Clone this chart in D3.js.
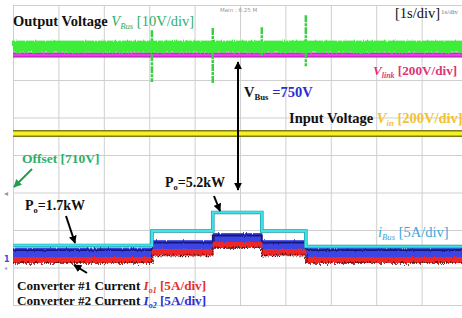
<!DOCTYPE html>
<html>
<head>
<meta charset="utf-8">
<script src="https://cdn.jsdelivr.net/npm/d3@7"></script>
<style>
  html, body { margin: 0; padding: 0; background: #fff; }
  svg { display: block; font-family: "Liberation Serif", "Times New Roman", serif; }
  .grid line { stroke: #cfcfcf; stroke-width: 1; }
  .grid path { display: none; }
</style>
</head>
<body>
<div id="scope"></div>
<script>
// scope graticule: 10 x 8 div, 1 s/div
var timeTicks = [0, 1, 2, 3, 4, 5, 6, 7, 8, 9, 10];
var divTicks = [0, 1, 2, 3, 4, 5, 6, 7, 8];

// load step instants (s) - levels below are per interval
var stepTimes = [0, 3.06, 4.4, 5.48, 6.45, 10];
var iBus = [2.19, 4.12, 6.59, 4.12, 2.05];   // A, 5A/div
var iO2 = [1.25, 2.25, 3.19, 2.25, 1.25];    // A, 5A/div
var iO1 = [0.25, 1.25, 2.25, 1.25, 0.25];    // A, 5A/div
var iBusRipple = 0.4, iO2Ripple = 1.3, iO1Ripple = 0.8;

// voltages
var vBus = 748.9, vBusRipple = 3.2;  // V, 10V/div, offset 710V
var vLink = 733;                     // V, 200V/div
var vIn = 315;                       // V, 200V/div

// bus voltage transients at the load steps
var spikeTimes = [3.06, 4.4, 5.48, 6.45];
var spikeHigh = [753.3, 753.9, 754.1, 757.3];
var spikeLow = [739.5, 739.2, 746.4, 743.7];

var W = 462, H = 318;
var x = d3.scaleLinear().domain([0, 10]).range([13, 467]);
var y = d3.scaleLinear().domain([0, 8]).range([305, 5]);

// channel -> division mapping
function ampDiv(a) { return 1.15 + a / 5; }
function busDiv(v) { return 3 + (v - 710) / 10; }
function hvDiv(v) { return 3 + v / 200; }

var svg = d3.select("#scope").append("svg")
  .attr("width", W).attr("height", H);

var defs = svg.append("defs");
function noiseFilter(id, freq, seed, scale) {
  var f = defs.append("filter").attr("id", id)
    .attr("x", "-2%").attr("y", "-80%").attr("width", "104%").attr("height", "260%");
  f.append("feTurbulence").attr("type", "fractalNoise").attr("baseFrequency", freq)
    .attr("numOctaves", 2).attr("seed", seed).attr("result", "n");
  f.append("feDisplacementMap").attr("in", "SourceGraphic").attr("in2", "n")
    .attr("scale", scale).attr("xChannelSelector", "R").attr("yChannelSelector", "G");
}
noiseFilter("jag", "0.9 0.05", 4, 4);
noiseFilter("jag2", "0.7 0.1", 9, 6);
noiseFilter("jag3", "1.1 0.05", 2, 2.5);

defs.append("marker").attr("id", "head").attr("viewBox", "0 0 10 10")
  .attr("refX", 9).attr("refY", 5).attr("markerWidth", 4).attr("markerHeight", 4)
  .attr("orient", "auto-start-reverse").attr("markerUnits", "strokeWidth")
  .append("path").attr("d", "M0,0 L10,5 L0,10 z").attr("fill", "#000");
defs.append("marker").attr("id", "headG").attr("viewBox", "0 0 10 10")
  .attr("refX", 9).attr("refY", 5).attr("markerWidth", 4).attr("markerHeight", 4)
  .attr("orient", "auto").attr("markerUnits", "strokeWidth")
  .append("path").attr("d", "M0,0 L10,5 L0,10 z").attr("fill", "#1e9e4e");

///////// GRID /////////
svg.append("g").attr("class", "grid")
  .attr("transform", "translate(0," + y(0) + ")")
  .call(d3.axisBottom(x).tickValues(timeTicks).tickSize(-(y(0) - y(8))).tickFormat(""));
svg.append("g").attr("class", "grid")
  .attr("transform", "translate(" + x(0) + ",0)")
  .call(d3.axisLeft(y).tickValues(divTicks).tickSize(-(x(10) - x(0))).tickFormat(""));

///////// VOLTAGE TRACES /////////
// input voltage (yellow)
svg.append("line").attr("x1", x(0)).attr("x2", x(10))
  .attr("y1", y(hvDiv(vIn))).attr("y2", y(hvDiv(vIn)))
  .attr("stroke", "#7d7a1c").attr("stroke-width", 7);
svg.append("line").attr("x1", x(0)).attr("x2", x(10))
  .attr("y1", y(hvDiv(vIn))).attr("y2", y(hvDiv(vIn)))
  .attr("stroke", "#f6f02a").attr("stroke-width", 4);

// link voltage (magenta)
svg.append("line").attr("x1", x(0)).attr("x2", x(10))
  .attr("y1", y(hvDiv(vLink))).attr("y2", y(hvDiv(vLink)))
  .attr("stroke", "#9a1f9a").attr("stroke-width", 5);
svg.append("line").attr("x1", x(0)).attr("x2", x(10))
  .attr("y1", y(hvDiv(vLink))).attr("y2", y(hvDiv(vLink)))
  .attr("stroke", "#ea3cea").attr("stroke-width", 3);

// bus voltage (green, noisy)
var gBus = svg.append("g");
gBus.selectAll("line.spike").data(spikeTimes).enter().append("line")
  .attr("class", "spike")
  .attr("x1", function(d) { return x(d); }).attr("x2", function(d) { return x(d); })
  .attr("y1", function(d, i) { return y(busDiv(spikeHigh[i])); })
  .attr("y2", function(d, i) { return y(busDiv(spikeLow[i])); })
  .attr("stroke", "#3ccf45").attr("stroke-width", 2.5).attr("stroke-dasharray", "7 1 3 1");
gBus.append("rect")
  .attr("x", x(0)).attr("width", x(10) - x(0))
  .attr("y", y(busDiv(vBus + vBusRipple / 2)))
  .attr("height", y(busDiv(vBus - vBusRipple / 2)) - y(busDiv(vBus + vBusRipple / 2)))
  .attr("fill", "#3ded3a").attr("filter", "url(#jag)");
gBus.append("rect")
  .attr("x", x(0)).attr("width", x(10) - x(0))
  .attr("y", y(busDiv(vBus + vBusRipple / 3)))
  .attr("height", y(busDiv(vBus - vBusRipple / 3)) - y(busDiv(vBus + vBusRipple / 3)))
  .attr("fill", "#3ded3a");
gBus.append("line")
  .attr("x1", x(0)).attr("x2", x(10))
  .attr("y1", y(busDiv(vBus + vBusRipple / 3))).attr("y2", y(busDiv(vBus + vBusRipple / 3)))
  .attr("stroke", "#0f4a12").attr("stroke-width", 1.6).attr("stroke-dasharray", "2 1 1 3")
  .attr("filter", "url(#jag2)");
gBus.append("line")
  .attr("x1", x(0)).attr("x2", x(10))
  .attr("y1", y(busDiv(vBus - vBusRipple / 4))).attr("y2", y(busDiv(vBus - vBusRipple / 4)))
  .attr("stroke", "#1b6e1f").attr("stroke-width", 1.1).attr("stroke-dasharray", "1 3")
  .attr("filter", "url(#jag2)");

///////// CURRENT TRACES /////////
var segs = d3.range(iBus.length);
function band(values, ripple, fill) {
  svg.append("g").selectAll("rect").data(segs).enter().append("rect")
    .attr("x", function(i) { return x(stepTimes[i]); })
    .attr("width", function(i) { return x(stepTimes[i + 1]) - x(stepTimes[i]) + 0.5; })
    .attr("y", function(i) { return y(ampDiv(values[i] + ripple / 2)); })
    .attr("height", function(i) { return y(ampDiv(values[i] - ripple / 2)) - y(ampDiv(values[i] + ripple / 2)); })
    .attr("fill", fill)
    .attr("filter", "url(#jag3)");
}
function levelPath(values, offset) {
  var pts = [];
  segs.forEach(function(i) {
    pts.push([x(stepTimes[i]), y(ampDiv(values[i] + offset))]);
    pts.push([x(stepTimes[i + 1]), y(ampDiv(values[i] + offset))]);
  });
  return d3.line()(pts);
}

band(iO2, iO2Ripple, "#3a44e4");
svg.append("path").attr("d", levelPath(iO2, iO2Ripple / 4)).attr("fill", "none")
  .attr("stroke", "#17177a").attr("stroke-width", 1.8).attr("filter", "url(#jag3)");
band(iO1, iO1Ripple, "#ee2828");
svg.append("path").attr("d", levelPath(iO1, -iO1Ripple / 2)).attr("fill", "none")
  .attr("stroke", "#4a0a0a").attr("stroke-width", 1.5).attr("stroke-dasharray", "2 1")
  .attr("filter", "url(#jag2)");
svg.append("path").attr("d", levelPath(iBus, 0)).attr("fill", "none")
  .attr("stroke", "#1c9aa0").attr("stroke-width", 3.6);
svg.append("path").attr("d", levelPath(iBus, 0)).attr("fill", "none")
  .attr("stroke", "#42e2ec").attr("stroke-width", 2.2);

///////// ANNOTATIONS /////////
function label(px, py, size, parts) {
  var t = svg.append("text").attr("x", px).attr("y", py)
    .attr("font-size", size).attr("font-weight", "bold");
  parts.forEach(function(p) {
    var s = t.append("tspan").text(p.t).attr("fill", p.c || "#111");
    if (p.i) s.attr("font-style", "italic");
    if (p.sub) s.attr("font-size", size * 0.6).attr("dy", 3);
    if (p.up) s.attr("dy", -3);
    if (p.w) s.attr("font-weight", p.w);
  });
  return t;
}
var gr = "#2fae68", pk = "#dc3478", gd = "#f2c232", sk = "#3aa8de", rd = "#e53030", bl = "#2a2ed0";

label(13, 26, 14.5, [{t: "Output Voltage "}, {t: "V", c: gr, i: 1, w: "normal"}, {t: "Bus", c: gr, i: 1, sub: 1, w: "normal"}, {t: " [10V/div]", c: gr, up: 1, w: "normal"}]);
label(395, 18, 14.5, [{t: "[1s/div]", w: "normal"}]);
svg.append("text").attr("x", 441).attr("y", 14).attr("font-size", 7).attr("fill", "#777").text("1s/div");
svg.append("text").attr("x", 220).attr("y", 12).attr("font-size", 5.5).attr("fill", "#999")
  .attr("font-family", "DejaVu Sans").text("Main : 6.25 M");
label(373, 75, 13.2, [{t: "V", c: pk, i: 1}, {t: "link", c: pk, i: 1, sub: 1}, {t: " [200V/div]", c: pk, up: 1}]);
label(244, 97, 14.5, [{t: "V"}, {t: "Bus", sub: 1}, {t: " =750V", c: bl, up: 1}]);
label(289, 123, 14.5, [{t: "Input Voltage "}, {t: "V", c: gd, i: 1}, {t: "in", c: gd, i: 1, sub: 1}, {t: " [200V/div]", c: gd, up: 1}]);
label(22, 163, 13.5, [{t: "Offset [710V]", c: gr}]);
label(165, 187, 14, [{t: "P"}, {t: "o", sub: 1}, {t: "=5.2kW", up: 1}]);
label(25, 210, 14, [{t: "P"}, {t: "o", sub: 1}, {t: "=1.7kW", up: 1}]);
label(378, 237, 14.5, [{t: "i", c: sk, i: 1, w: "normal"}, {t: "Bus", c: sk, i: 1, sub: 1, w: "normal"}, {t: " [5A/div]", c: sk, up: 1, w: "normal"}]);
label(17, 290, 13.2, [{t: "Converter #1 Current "}, {t: "I", c: rd, i: 1}, {t: "o1", c: rd, i: 1, sub: 1}, {t: " [5A/div]", c: rd, up: 1}]);
label(17, 305, 13.2, [{t: "Converter #2 Current "}, {t: "I", c: bl, i: 1}, {t: "o2", c: bl, i: 1, sub: 1}, {t: " [5A/div]", c: bl, up: 1}]);

// arrows
function arrow(x1, y1, x2, y2, w, both, green) {
  var l = svg.append("line").attr("x1", x1).attr("y1", y1).attr("x2", x2).attr("y2", y2)
    .attr("stroke", green ? "#1e9e4e" : "#000").attr("stroke-width", w)
    .attr("marker-end", green ? "url(#headG)" : "url(#head)");
  if (both) l.attr("marker-start", "url(#head)");
}
arrow(238, 190, 238, 62, 2, true);
arrow(214, 196, 220, 211, 2);
arrow(66, 216, 75, 243, 2);
arrow(87, 273, 74, 265, 2);
arrow(32, 169, 14, 187, 2, false, true);

// channel ground markers
svg.append("text").attr("x", 4).attr("y", 196).attr("font-size", 8).attr("fill", "#999").text("\u25C2");
svg.append("text").attr("x", 4).attr("y", 262).attr("font-size", 8).attr("font-weight", "bold")
  .attr("fill", "#3a4ad8").attr("font-family", "DejaVu Sans").text("1");
svg.append("text").attr("x", 4).attr("y", 270).attr("font-size", 6).attr("fill", "#9aa0d0").text("\u25C2");
</script>
</body>
</html>
